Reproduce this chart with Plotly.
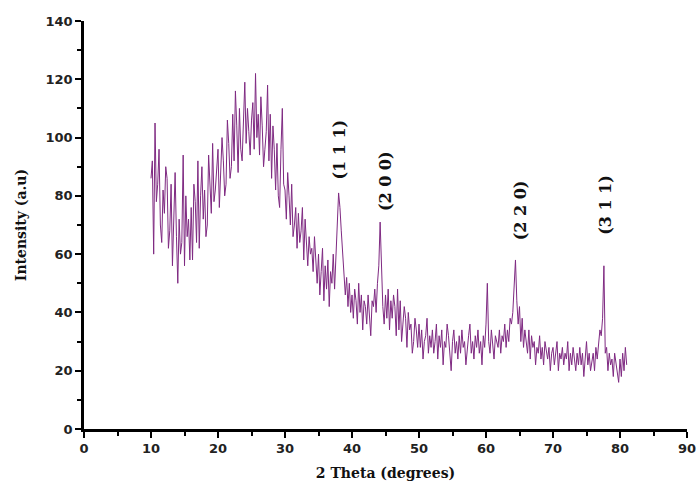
import numpy as np
import plotly.graph_objects as go

# XRD scan: 2-theta from 10.0 to 81.0 degrees, 0.2 degree step
two_theta_start = 10.0
two_theta_step = 0.2
intensity = [
    86, 92, 60, 105, 78, 84, 96, 70, 64, 82,     # 10.0 - 11.8
    74, 90, 86, 62, 68, 84, 56, 78, 88, 66,      # 12.0 - 13.8
    50, 72, 60, 64, 94, 56, 80, 66, 72, 58,      # 14.0 - 15.8
    76, 58, 84, 78, 64, 92, 62, 80, 90, 72,      # 16.0 - 17.8
    82, 66, 70, 94, 86, 74, 98, 78, 82, 90,      # 18.0 - 19.8
    96, 76, 88, 100, 92, 80, 84, 106, 98, 86,    # 20.0 - 21.8
    90, 108, 92, 116, 104, 88, 110, 96, 92, 108, # 22.0 - 23.8
    119, 98, 110, 102, 94, 106, 112, 96, 122, 100,  # 24.0 - 25.8
    108, 94, 114, 104, 90, 96, 102, 118, 92, 108,   # 26.0 - 27.8
    86, 104, 96, 82, 98, 80, 76, 96, 110, 84,    # 28.0 - 29.8
    82, 72, 88, 80, 70, 84, 66, 70, 76, 62,      # 30.0 - 31.8
    74, 64, 68, 76, 58, 72, 62, 56, 66, 60,      # 32.0 - 33.8
    62, 54, 66, 58, 50, 60, 46, 54, 62, 44,      # 34.0 - 35.8
    56, 48, 58, 42, 54, 50, 60, 48, 62, 70,      # 36.0 - 37.8
    81, 76, 68, 60, 54, 46, 52, 42, 50, 40,      # 38.0 - 39.8
    46, 38, 48, 44, 36, 50, 40, 46, 34, 44,      # 40.0 - 41.8
    42, 36, 46, 40, 32, 44, 42, 48, 40, 50,      # 42.0 - 43.8
    56, 71, 52, 42, 36, 46, 38, 48, 34, 44,      # 44.0 - 45.8
    38, 46, 42, 32, 48, 34, 44, 30, 36, 42,      # 46.0 - 47.8
    38, 28, 40, 34, 36, 26, 30, 38, 34, 28,      # 48.0 - 49.8
    36, 28, 34, 24, 30, 32, 38, 26, 32, 28,      # 50.0 - 51.8
    34, 26, 30, 36, 24, 32, 28, 34, 22, 30,      # 52.0 - 53.8
    28, 36, 32, 26, 20, 30, 34, 26, 30, 24,      # 54.0 - 55.8
    32, 26, 34, 28, 30, 22, 28, 32, 36, 26,      # 56.0 - 57.8
    30, 24, 32, 28, 34, 26, 30, 22, 32, 28,      # 58.0 - 59.8
    36, 50, 30, 26, 34, 28, 24, 32, 30, 28,      # 60.0 - 61.8
    34, 26, 32, 30, 36, 28, 34, 30, 38, 36,      # 62.0 - 63.8
    40, 48, 58, 44, 36, 42, 30, 38, 28, 34,      # 64.0 - 65.8
    30, 26, 34, 24, 32, 28, 30, 22, 28, 26,      # 66.0 - 67.8
    32, 24, 28, 22, 30, 26, 24, 28, 20, 26,      # 68.0 - 69.8
    28, 22, 26, 30, 20, 26, 24, 28, 22, 26,      # 70.0 - 71.8
    24, 30, 20, 26, 22, 28, 24, 20, 26, 22,      # 72.0 - 73.8
    28, 22, 26, 18, 24, 30, 22, 26, 20, 24,      # 74.0 - 75.8
    26, 20, 28, 24, 30, 34, 32, 38, 56, 26,      # 76.0 - 77.8
    28, 20, 26, 22, 24, 18, 26, 22, 20, 16,      # 78.0 - 79.8
    24, 18, 26, 20, 28, 22,                      # 80.0 - 81.0
]
two_theta = two_theta_start + two_theta_step * np.arange(len(intensity))

# Miller-index labels of the reflections
peak_labels = ["(1 1 1)", "(2 0 0)", "(2 2 0)", "(3 1 1)"]
peak_x = [38.1, 44.9, 65.2, 77.8]
peak_y = [96, 85, 75, 77]

fig = go.Figure()
fig.add_trace(go.Scatter(
    x=two_theta, y=intensity, mode="lines",
    line=dict(color="#7f2a82", width=1),
    showlegend=False,
))

for lbl, px, py in zip(peak_labels, peak_x, peak_y):
    fig.add_annotation(
        x=px, y=py, text="<b>" + lbl + "</b>", showarrow=False, textangle=-90,
        font=dict(family="DejaVu Serif", size=16, color="#111111"),
    )

tick_font = dict(family="DejaVu Sans", size=13, color="#222222", weight="bold")
axis_common = dict(
    showline=True, linecolor="black", linewidth=2.5,
    ticks="outside", ticklen=6, tickwidth=2, tickcolor="black",
    showgrid=False, zeroline=False, tickfont=tick_font, automargin=False,
)

fig.update_xaxes(
    range=[0, 90], tickmode="linear", tick0=0, dtick=10,
    minor=dict(dtick=5, ticks="outside", ticklen=4, tickwidth=2, tickcolor="black"),
    ticklabelstandoff=0,
    title=dict(text="<b>2 Theta (degrees)</b>",
               font=dict(family="DejaVu Serif", size=14, color="#111111"),
               standoff=13),
    **axis_common,
)
fig.update_yaxes(
    range=[0, 140], tickmode="linear", tick0=0, dtick=20,
    minor=dict(dtick=10, ticks="outside", ticklen=4, tickwidth=2, tickcolor="black"),
    title=dict(text="<b>Intensity (a.u)</b>",
               font=dict(family="DejaVu Serif", size=14, color="#111111"),
               standoff=16),
    **axis_common,
)

fig.update_layout(
    width=700, height=489,
    margin=dict(l=84, r=13, t=21, b=60),
    paper_bgcolor="white", plot_bgcolor="white",
    font=dict(family="DejaVu Sans"),
)

fig.write_html("out.html")
